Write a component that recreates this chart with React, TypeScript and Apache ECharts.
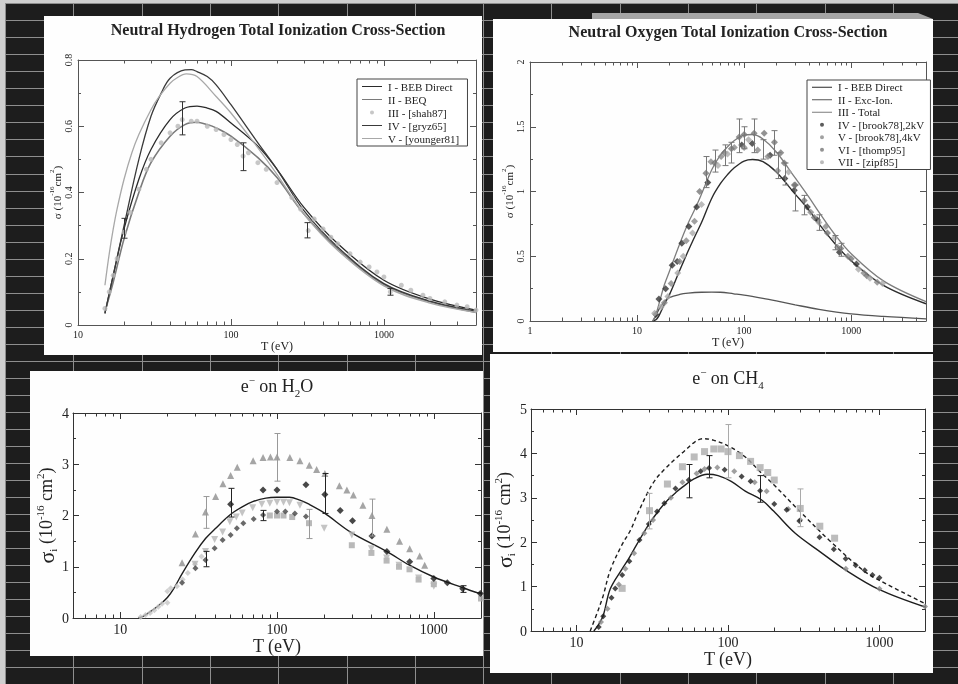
import React, { useEffect, useRef } from 'react';
import * as echarts from 'echarts';

const SERIF = '"Liberation Serif", "DejaVu Serif", serif';

// ---------------- Panel 1 : Neutral Hydrogen ----------------
const hTitle = 'Neutral Hydrogen Total Ionization Cross-Section';
const hNames = ['I - BEB Direct', 'II - BEQ', 'III - [shah87]', 'IV - [gryz65]', 'V - [younger81]'];
const hBebDirect = [[15, 0.035], [17, 0.15], [20, 0.29], [25, 0.44], [30, 0.53], [40, 0.62], [50, 0.655], [60, 0.661], [70, 0.655], [80, 0.645], [100, 0.61], [150, 0.54], [200, 0.47], [300, 0.355], [500, 0.245], [1000, 0.135], [2000, 0.078], [4000, 0.045]];
const hBeq = [[15, 0.04], [17, 0.13], [20, 0.26], [25, 0.4], [30, 0.49], [40, 0.57], [50, 0.605], [60, 0.612], [70, 0.605], [80, 0.595], [100, 0.57], [150, 0.505], [200, 0.445], [300, 0.335], [500, 0.23], [1000, 0.122], [2000, 0.07], [4000, 0.038]];
const hGryz = [[15, 0.035], [17, 0.15], [20, 0.3], [25, 0.5], [30, 0.63], [35, 0.7], [40, 0.745], [50, 0.77], [55, 0.771], [60, 0.765], [70, 0.75], [80, 0.725], [100, 0.665], [150, 0.55], [200, 0.47], [300, 0.345], [500, 0.235], [1000, 0.125], [2000, 0.072], [4000, 0.042]];
const hYounger = [[15, 0.12], [16, 0.215], [17, 0.29], [18, 0.35], [20, 0.44], [22.5, 0.52], [25, 0.575], [30, 0.65], [34, 0.69], [40, 0.73], [44, 0.745], [51, 0.758], [60, 0.75], [80, 0.69], [100, 0.64], [150, 0.535], [200, 0.455], [300, 0.335], [500, 0.225], [1000, 0.118], [2000, 0.066], [4000, 0.038]];
const hShah = [[15, 0.05], [16, 0.1], [17, 0.15], [18, 0.2], [20, 0.28], [22, 0.34], [25, 0.41], [28, 0.47], [30, 0.5], [35, 0.55], [40, 0.58], [45, 0.6], [48, 0.62], [55, 0.615], [60, 0.615], [70, 0.6], [80, 0.59], [90, 0.575], [100, 0.56], [110, 0.545], [120, 0.51], [130, 0.52], [150, 0.49], [170, 0.47], [200, 0.43], [250, 0.385], [285, 0.35], [320, 0.285], [350, 0.32], [400, 0.29], [450, 0.265], [500, 0.245], [600, 0.215], [700, 0.19], [800, 0.175], [900, 0.16], [1000, 0.145], [1100, 0.1], [1300, 0.12], [1500, 0.105], [1800, 0.09], [2000, 0.08], [2500, 0.07], [3000, 0.06], [3500, 0.055], [4000, 0.045]];
const hErr = [[20, 0.262, 0.322], [48, 0.574, 0.674], [120, 0.466, 0.55], [316, 0.263, 0.309], [1100, 0.09, 0.11]];

// ---------------- Panel 2 : Neutral Oxygen ----------------
const oTitle = 'Neutral Oxygen Total Ionization Cross-Section';
const oNames = ['I - BEB Direct ', 'II - Exc-Ion.', 'III - Total', 'IV - [brook78],2kV', 'V - [brook78],4kV', 'VI - [thomp95]', 'VII - [zipf85]'];
const oBebDirect = [[14, 0], [15, 0.01], [16, 0.04], [18, 0.13], [20, 0.2], [25, 0.39], [30, 0.54], [35, 0.66], [40, 0.76], [50, 0.95], [60, 1.06], [70, 1.13], [80, 1.18], [100, 1.235], [120, 1.247], [150, 1.23], [200, 1.15], [300, 0.98], [400, 0.86], [500, 0.75], [700, 0.6], [1000, 0.465], [2000, 0.275], [5000, 0.133]];
const oExcIon = [[14, 0], [15, 0.04], [16, 0.09], [18, 0.15], [20, 0.18], [25, 0.205], [30, 0.215], [40, 0.222], [50, 0.223], [60, 0.222], [80, 0.21], [100, 0.2], [150, 0.175], [200, 0.155], [300, 0.125], [500, 0.09], [1000, 0.055], [2000, 0.035], [5000, 0.017]];
const oTotal = [[14, 0], [15, 0.05], [16, 0.13], [18, 0.28], [20, 0.38], [25, 0.595], [30, 0.755], [35, 0.87], [40, 0.98], [50, 1.17], [60, 1.28], [70, 1.345], [80, 1.39], [100, 1.435], [120, 1.44], [150, 1.405], [200, 1.305], [300, 1.105], [400, 0.96], [500, 0.84], [700, 0.67], [1000, 0.52], [2000, 0.31], [5000, 0.15]];
const oBrook2 = [[15, 0.05], [16, 0.17], [18.5, 0.25], [21.3, 0.43], [23.7, 0.46], [26.2, 0.6], [30.5, 0.73], [36, 0.88], [45.8, 1.07], [95, 1.36], [119, 1.37], [175, 1.28], [240, 1.1], [294, 1.01], [390, 0.88], [484, 0.78], [777, 0.53], [1120, 0.44]];
const oBrook4 = [[18, 0.14], [20.8, 0.29], [25, 0.46], [28.8, 0.62], [34.4, 0.77], [49, 1.23], [61, 1.27], [81, 1.34], [100, 1.34], [134, 1.32], [167, 1.27], [206, 1.16], [294, 1.05], [419, 0.84], [580, 0.73], [744, 0.57], [930, 0.5], [1315, 0.37], [1750, 0.3]];
const oThomp = [[38.4, 1.0], [44, 1.14], [53, 1.22], [65.6, 1.3], [76, 1.33], [90, 1.42], [100, 1.44], [124, 1.45], [154, 1.45], [192, 1.38], [220, 1.3], [237, 1.22], [300, 1.05], [364, 0.93], [452, 0.8], [600, 0.68], [800, 0.56], [1000, 0.48], [1400, 0.35]];
const oZipf = [[14.6, 0.06], [16.8, 0.11], [19.4, 0.19], [24, 0.37], [27, 0.5], [33, 0.68], [40, 0.9], [57, 1.2], [70, 1.29], [110, 1.4], [260, 1.15], [500, 0.76], [700, 0.64], [1170, 0.4], [1500, 0.33], [1960, 0.29]];
const oErr = [[44, 1.03, 1.27], [53, 1.15, 1.32], [65.6, 1.2, 1.36], [75, 1.22, 1.38], [90, 1.3, 1.56], [100, 1.33, 1.5], [124, 1.3, 1.56], [150, 1.25, 1.4], [192, 1.28, 1.47], [206, 1.1, 1.3], [240, 1.05, 1.22], [300, 0.85, 1.05], [364, 0.82, 0.97], [500, 0.7, 0.82], [700, 0.55, 0.66], [800, 0.5, 0.6]];

// ---------------- Panel 3 : e- on H2O ----------------
const wCurve = [[13, 0], [14, 0.03], [16, 0.15], [18, 0.27], [20, 0.4], [22, 0.58], [25, 0.88], [30, 1.27], [35, 1.55], [40, 1.73], [50, 2.01], [60, 2.17], [70, 2.27], [85, 2.34], [100, 2.355], [120, 2.355], [140, 2.3], [160, 2.22], [200, 2.05], [300, 1.66], [500, 1.3], [700, 1.03], [1000, 0.8], [1500, 0.6], [2000, 0.47]];
const wTri = [[24.8, 1.08], [30.2, 1.64], [35, 2.07], [40.6, 2.37], [45.2, 2.62], [50.6, 2.78], [55.8, 2.94], [70.4, 3.07], [81.5, 3.13], [90.8, 3.14], [100, 3.14], [120.8, 3.13], [140, 3.07], [160.7, 2.98], [179, 2.9], [202, 2.82], [250, 2.58], [279, 2.5], [307, 2.4], [353, 2.2], [403, 2.0], [502, 1.73], [605, 1.5], [702, 1.35], [813, 1.21], [875, 1.03]];
const wDark = [[50.6, 2.22], [81.5, 2.5], [100, 2.5], [153, 2.6], [202, 2.41], [253, 2.1], [303, 1.9], [403, 1.6], [502, 1.3], [702, 1.1], [1000, 0.77], [1220, 0.69], [1530, 0.57], [1980, 0.48]];
const wMid = [[24.8, 0.69], [30.2, 0.97], [35, 1.13], [40, 1.36], [45, 1.52], [50.6, 1.62], [55.5, 1.75], [61, 1.85], [71, 1.93], [81.5, 2.01], [100, 2.08], [113, 2.08], [130, 2.04], [153, 1.98]];
const wTriDown = [[30, 1.05], [35, 1.3], [40, 1.53], [45, 1.68], [50, 1.88], [55, 1.97], [60, 2.05], [70, 2.15], [80, 2.22], [90, 2.24], [100, 2.26], [110, 2.26], [120, 2.25], [140, 2.2], [200, 1.75], [300, 1.62], [400, 1.35], [500, 1.17], [600, 1.03], [800, 0.78], [1000, 0.62]];
const wSquare = [[90, 2.0], [100, 2.0], [110, 2.0], [125, 1.97], [160, 1.85], [300, 1.42], [400, 1.27], [500, 1.12], [600, 1.0], [700, 0.95], [800, 0.75], [1000, 0.66], [2000, 0.38]];
const wLow = [[13.5, 0.02], [14.5, 0.06], [15.5, 0.1], [16.5, 0.15], [17.5, 0.22], [18.5, 0.28], [20, 0.3], [20, 0.52], [21, 0.58], [23, 0.62], [25, 0.75], [27, 0.88], [30, 1.05], [33, 1.2]];
const wErrDark = [[50.6, 1.97, 2.53], [202, 2.04, 2.82], [1530, 0.5, 0.63], [35, 1.0, 1.3], [81.5, 1.9, 2.1]];
const wErrLight = [[35, 1.75, 2.37], [100, 2.67, 3.6], [403, 1.6, 2.32], [160, 1.55, 2.12]];

// ---------------- Panel 4 : e- on CH4 ----------------
const mSolid = [[13, 0], [14, 0.15], [15, 0.35], [16.7, 0.95], [20, 1.4], [22, 1.62], [25, 1.95], [30, 2.4], [35, 2.72], [40, 2.95], [46, 3.14], [50, 3.24], [60, 3.43], [73, 3.53], [86, 3.5], [105, 3.37], [130, 3.15], [167, 2.95], [200, 2.7], [278, 2.2], [400, 1.8], [600, 1.37], [1000, 0.93], [2000, 0.54]];
const mDashed = [[12.3, 0], [14, 0.5], [15, 0.8], [16.7, 1.37], [20, 1.95], [22.7, 2.27], [25, 2.6], [29.3, 3.1], [33, 3.4], [37.8, 3.63], [45, 3.88], [51.4, 4.05], [60, 4.25], [68, 4.33], [80, 4.3], [100, 4.17], [129, 3.93], [167, 3.55], [200, 3.3], [278, 2.8], [464, 2.05], [778, 1.37], [1000, 1.14], [2000, 0.62]];
const mSquare = [[20, 0.96], [30.3, 2.71], [39.8, 3.31], [50, 3.7], [59.8, 3.92], [70, 4.04], [80.6, 4.1], [90, 4.1], [100, 4.04], [119, 3.95], [141, 3.82], [163, 3.68], [183, 3.57], [202, 3.4], [300, 2.76], [404, 2.36], [506, 2.09]];
const mDark = [[14, 0.09], [15, 0.33], [17, 0.75], [18, 0.96], [20, 1.26], [22.3, 1.57], [26, 2.05], [30, 2.41], [34, 2.69], [38, 2.88], [45, 3.21], [55, 3.4], [66, 3.6], [75, 3.67], [95, 3.63], [123, 3.48], [141, 3.37], [163, 3.16], [202, 2.86], [244, 2.73], [296, 2.48], [402, 2.11], [500, 1.84], [599, 1.63], [697, 1.48], [800, 1.37], [899, 1.26], [1000, 1.2]];
const mMid = [[14.5, 0.2], [16, 0.5], [19, 1.05], [21, 1.4], [24, 1.75], [28, 2.2], [32, 2.5], [42, 3.0], [50, 3.35], [62, 3.55], [70, 3.65], [85, 3.68], [110, 3.6], [150, 3.35], [180, 3.15], [250, 2.75], [300, 2.5], [600, 1.4], [1000, 0.95], [2000, 0.55]];
const mErrDark = [[55, 3.0, 3.75], [75, 3.45, 3.95], [163, 2.9, 3.5]];
const mErrLight = [[30.3, 2.3, 3.1], [100, 3.45, 4.65], [300, 2.35, 3.2]];

// axis ranges
const xRanges = [[10, 4000], [1, 5000], [5, 2000], [5, 2000]];
const yRanges = [[0, 0.8, 0.2], [0, 2, 0.5], [0, 4, 1], [0, 5, 1]];

const minorTicks = (min: number, max: number) => {
  const out: number[][] = [];
  for (let e = -1; e <= 4; e++) {
    for (let k = 2; k <= 9; k++) {
      const v = k * Math.pow(10, e);
      if (v > min * 1.0001 && v < max * 0.9999) out.push([v, 0]);
    }
  }
  return out;
};

const pow10Label = (v: number) => {
  const l = Math.log10(v);
  return Math.abs(l - Math.round(l)) < 1e-6 ? String(Math.round(Math.pow(10, Math.round(l)))) : '';
};

// legend icons (bounding box 22 x 5 so they are not rescaled)
const CORNERS = 'M0,0h0.01v0.01h-0.01Z M21.99,4.99h0.01v0.01h-0.01Z ';
const LINE_ICON = 'path://' + CORNERS + 'M1,1.9H21V3.1H1Z';
const DOT_ICON = 'path://' + CORNERS + 'M13,2.5A2,2 0 1 1 9,2.5A2,2 0 1 1 13,2.5Z';

export default function App() {
  const ref = useRef<HTMLDivElement>(null);
  useEffect(() => {
    if (!ref.current) return;
    const chart = echarts.init(ref.current, null, { renderer: 'svg' });

    const grids = [
      { left: 78, top: 60, width: 398, height: 265 },
      { left: 530, top: 62, width: 396, height: 259 },
      { left: 73, top: 413, width: 408, height: 205 },
      { left: 531, top: 409, width: 394, height: 222 },
    ];
    const axisColor = ['#555', '#555', '#333', '#333'];
    const labelSize = [10, 10, 14, 14];
    const nameSize = [12, 12, 18, 18];
    const xNameGap = [8, 12, 12, 12];

    const xAxis: any[] = [];
    const yAxis: any[] = [];
    for (let i = 0; i < 4; i++) {
      xAxis.push({
        type: 'log', logBase: 10, gridIndex: i, min: xRanges[i][0], max: xRanges[i][1], position: 'bottom',
        axisLine: { show: true, onZero: false, lineStyle: { color: axisColor[i], width: 1 } },
        axisTick: { show: true, inside: true, length: 6, lineStyle: { color: axisColor[i] } },
        splitLine: { show: false },
        axisLabel: { show: true, margin: 4, fontSize: labelSize[i], color: '#222', fontFamily: SERIF, formatter: pow10Label },
        name: 'T (eV)', nameLocation: 'middle', nameGap: xNameGap[i],
        nameTextStyle: { fontFamily: SERIF, fontSize: nameSize[i], color: '#222' },
      });
    }
    for (let i = 0; i < 4; i++) {
      xAxis.push({
        type: 'log', logBase: 10, gridIndex: i, min: xRanges[i][0], max: xRanges[i][1], position: 'top',
        axisLine: { show: true, onZero: false, lineStyle: { color: axisColor[i], width: 1 } },
        axisTick: { show: true, inside: true, length: 6, lineStyle: { color: axisColor[i] } },
        axisLabel: { show: false }, splitLine: { show: false },
      });
    }
    const yNames = [
      '{n|σ (10}{sup|-16}{n|cm}{sup|2}{n|)}',
      '{n|σ (10}{sup|-16}{n|cm}{sup|2}{n|)}',
      '{s|σ}{sub|i}{n| (10}{sup|-16}{n| cm}{sup|2}{n|)}',
      '{s|σ}{sub|i}{n| (10}{sup|-16}{n| cm}{sup|2}{n|)}',
    ];
    const yNameGap = [12, 12, 14, 14];
    for (let i = 0; i < 4; i++) {
      const small = i < 2;
      const fs = small ? 11 : 18;
      yAxis.push({
        type: 'value', gridIndex: i, min: yRanges[i][0], max: yRanges[i][1], interval: yRanges[i][2], position: 'left',
        axisLine: { show: true, onZero: false, lineStyle: { color: axisColor[i], width: 1 } },
        axisTick: { show: true, inside: true, length: 6, lineStyle: { color: axisColor[i] } },
        minorTick: { show: true, splitNumber: 2, length: 3, lineStyle: { color: axisColor[i] } },
        splitLine: { show: false }, minorSplitLine: { show: false },
        axisLabel: { show: true, rotate: small ? 90 : 0, margin: small ? 5 : 4, fontSize: labelSize[i], color: '#222', fontFamily: SERIF },
        name: yNames[i], nameLocation: 'middle', nameGap: yNameGap[i], nameRotate: 90,
        nameTextStyle: {
          fontFamily: SERIF, fontSize: fs, color: '#222',
          rich: {
            n: { fontFamily: SERIF, fontSize: fs, color: '#222', lineHeight: fs + 6 },
            s: { fontFamily: SERIF, fontSize: fs + 4, color: '#222', lineHeight: fs + 6 },
            sup: { fontFamily: SERIF, fontSize: Math.round(fs * 0.62), color: '#222', verticalAlign: 'top', lineHeight: Math.round(fs * 0.62) },
            sub: { fontFamily: SERIF, fontSize: Math.round(fs * 0.62), color: '#222', verticalAlign: 'bottom', lineHeight: Math.round(fs * 0.62) },
          },
        },
      });
    }
    for (let i = 0; i < 4; i++) {
      yAxis.push({
        type: 'value', gridIndex: i, min: yRanges[i][0], max: yRanges[i][1], interval: yRanges[i][2], position: 'right',
        axisLine: { show: true, onZero: false, lineStyle: { color: axisColor[i], width: 1 } },
        axisTick: { show: true, inside: true, length: 6, lineStyle: { color: axisColor[i] } },
        minorTick: { show: true, splitNumber: 2, length: 3, lineStyle: { color: axisColor[i] } },
        axisLabel: { show: false }, splitLine: { show: false }, minorSplitLine: { show: false },
      });
    }

    const line = (name: string, data: number[][], gi: number, color: string, width = 1.2, type: any = 'solid') => ({
      type: 'line', name, data, xAxisIndex: gi, yAxisIndex: gi, symbol: 'none', smooth: 0.35,
      lineStyle: { color, width, type }, itemStyle: { color }, z: 3, silent: true,
    });
    const scatter = (name: string, data: number[][], gi: number, color: string, symbol: string, size: number, rotate = 0) => ({
      type: 'scatter', name, data, xAxisIndex: gi, yAxisIndex: gi, symbol, symbolSize: size, symbolRotate: rotate,
      itemStyle: { color }, z: 4, silent: true,
    });
    const errBars = (name: string, data: number[][], gi: number, color: string) => ({
      type: 'custom', name, data, xAxisIndex: gi, yAxisIndex: gi, silent: true, z: 5,
      encode: { x: 0, y: [1, 2] },
      renderItem: (params: any, api: any) => {
        const lo = api.coord([api.value(0), api.value(1)]);
        const hi = api.coord([api.value(0), api.value(2)]);
        const x = Math.round(lo[0]) + 0.5;
        const st = { stroke: color, lineWidth: 1 };
        return {
          type: 'group', children: [
            { type: 'line', shape: { x1: x, y1: lo[1], x2: x, y2: hi[1] }, style: st },
            { type: 'line', shape: { x1: x - 3, y1: lo[1], x2: x + 3, y2: lo[1] }, style: st },
            { type: 'line', shape: { x1: x - 3, y1: hi[1], x2: x + 3, y2: hi[1] }, style: st },
          ],
        };
      },
    });
    const minorSeries = (gi: number) => ({
      type: 'custom', name: 'minor' + gi, data: minorTicks(xRanges[gi][0], xRanges[gi][1]), xAxisIndex: gi, yAxisIndex: gi,
      silent: true, z: 5, encode: { x: 0, y: 1 },
      renderItem: (params: any, api: any) => {
        const cs = params.coordSys;
        const x = Math.round(api.coord([api.value(0), 0])[0]) + 0.5;
        const st = { stroke: axisColor[gi], lineWidth: 1 };
        const len = 3.5;
        return {
          type: 'group', children: [
            { type: 'line', shape: { x1: x, y1: cs.y + cs.height, x2: x, y2: cs.y + cs.height - len }, style: st },
            { type: 'line', shape: { x1: x, y1: cs.y, x2: x, y2: cs.y + len }, style: st },
          ],
        };
      },
    });

    const series: any[] = [
      // panel 1
      line(hNames[0], hBebDirect, 0, '#2b2b2b', 1.3),
      line(hNames[1], hBeq, 0, '#7a7a7a', 1.6),
      scatter(hNames[2], hShah, 0, '#b9b9b9', 'circle', 5),
      line(hNames[3], hGryz, 0, '#3a3a3a', 1.3),
      line(hNames[4], hYounger, 0, '#a8a8a8', 1.3),
      errBars('hErr', hErr, 0, '#333'),
      minorSeries(0),
      // panel 2
      line(oNames[0], oBebDirect, 1, '#2b2b2b', 1.4),
      line(oNames[1], oExcIon, 1, '#555', 1.3),
      line(oNames[2], oTotal, 1, '#7d7d7d', 1.3),
      scatter(oNames[3], oBrook2, 1, '#333', 'diamond', 7),
      scatter(oNames[4], oBrook4, 1, '#8a8a8a', 'diamond', 7),
      scatter(oNames[5], oThomp, 1, '#777', 'diamond', 7),
      scatter(oNames[6], oZipf, 1, '#aaa', 'diamond', 7),
      errBars('oErr', oErr, 1, '#777'),
      minorSeries(1),
      // panel 3
      scatter('wLow', wLow, 2, '#c6c6c6', 'diamond', 6),
      scatter('wSquare', wSquare, 2, '#a8a8a8', 'rect', 6),
      scatter('wTriDown', wTriDown, 2, '#b5b5b5', 'triangle', 7, 180),
      scatter('wMid', wMid, 2, '#444', 'diamond', 6),
      scatter('wTri', wTri, 2, '#8e8e8e', 'triangle', 7),
      scatter('wDark', wDark, 2, '#1a1a1a', 'diamond', 7),
      errBars('wErrLight', wErrLight, 2, '#999'),
      errBars('wErrDark', wErrDark, 2, '#222'),
      line('wCurve', wCurve, 2, '#1e1e1e', 1.4),
      minorSeries(2),
      // panel 4
      scatter('mSquare', mSquare, 3, '#ababab', 'rect', 7),
      scatter('mMid', mMid, 3, '#888', 'diamond', 6),
      scatter('mDark', mDark, 3, '#1e1e1e', 'diamond', 6),
      errBars('mErrLight', mErrLight, 3, '#aaa'),
      errBars('mErrDark', mErrDark, 3, '#222'),
      line('mSolid', mSolid, 3, '#1e1e1e', 1.4),
      line('mDashed', mDashed, 3, '#1e1e1e', 1.4, [4, 3]),
      minorSeries(3),
    ];

    // ---- background decoration (spreadsheet-like grid behind the panels) ----
    const graphic: any[] = [];
    graphic.push({ type: 'rect', shape: { x: 0, y: 0, width: 958, height: 684 }, style: { fill: '#cfcfcf' }, z: -100 });
    graphic.push({ type: 'rect', shape: { x: 5, y: 3, width: 953, height: 681 }, style: { fill: '#1d1d1d' }, z: -99 });
    for (let k = 0; k < 14; k++) {
      const x = Math.round(5 + 68.3 * k) + 0.5;
      graphic.push({ type: 'line', shape: { x1: x, y1: 3, x2: x, y2: 684 }, style: { stroke: '#8e8e8e', lineWidth: 1 }, z: -98 });
    }
    for (let k = 0; k < 41; k++) {
      const y = Math.round(3.3 + 17.02 * k) + 0.5;
      graphic.push({ type: 'line', shape: { x1: 5, y1: y, x2: 958, y2: y }, style: { stroke: '#8e8e8e', lineWidth: 1 }, z: -98 });
    }
    const panels = [
      [44, 16, 438, 339],
      [493, 19, 440, 333],
      [30, 371, 453, 285],
      [490, 354, 443, 319],
    ];
    panels.forEach((p) => graphic.push({ type: 'rect', shape: { x: p[0], y: p[1], width: p[2], height: p[3] }, style: { fill: '#fefefe' }, z: -97 }));
    graphic.push({ type: 'polygon', shape: { points: [[592, 13], [918, 13], [933, 19], [592, 19]] }, style: { fill: '#a5a5a5' }, z: -97 });

    const titleStyle = (text: string, x: number, y: number) => ({
      type: 'text', x, y, z: 10,
      style: { text, fontFamily: SERIF, fontSize: 16, fontWeight: 'bold', fill: '#222', align: 'center', verticalAlign: 'middle' },
    });
    graphic.push(titleStyle(hTitle, 278, 29));
    graphic.push(titleStyle(oTitle, 728, 31));
    const chemTitle = (rich: string, x: number, y: number) => ({
      type: 'text', x, y, z: 10,
      style: {
        text: rich, align: 'center', verticalAlign: 'middle', fill: '#222',
        rich: {
          n: { fontFamily: SERIF, fontSize: 18, fill: '#222', lineHeight: 24 },
          sup: { fontFamily: SERIF, fontSize: 11, fill: '#222', verticalAlign: 'top', lineHeight: 11 },
          sub: { fontFamily: SERIF, fontSize: 11, fill: '#222', verticalAlign: 'bottom', lineHeight: 11 },
        },
      },
    });
    graphic.push(chemTitle('{n|e}{sup|−}{n| on H}{sub|2}{n|O}', 277, 386));
    graphic.push(chemTitle('{n|e}{sup|−}{n| on CH}{sub|4}', 728, 378));

    const legendCommon = {
      show: true, orient: 'vertical', itemGap: 0, itemWidth: 22, itemHeight: 5,
      borderColor: '#444', borderWidth: 1, backgroundColor: '#ffffff', selectedMode: false, symbolKeepAspect: false,
      textStyle: { fontFamily: SERIF, fontSize: 11, color: '#222' },
    };
    const hIcons = [LINE_ICON, LINE_ICON, DOT_ICON, LINE_ICON, LINE_ICON];
    const oIcons = [LINE_ICON, LINE_ICON, LINE_ICON, DOT_ICON, DOT_ICON, DOT_ICON, DOT_ICON];

    chart.setOption({
      animation: false,
      textStyle: { fontFamily: SERIF },
      grid: grids.map((g) => ({ ...g, containLabel: false })),
      xAxis, yAxis, series, graphic,
      legend: [
        {
          ...legendCommon, left: 357, top: 79, padding: [1, 8, 1, 4],
          textStyle: { ...legendCommon.textStyle, lineHeight: 13 },
          data: hNames.map((n, i) => ({ name: n, icon: hIcons[i] })),
        },
        {
          ...legendCommon, left: 807, top: 80, padding: [1, 6, 1, 4],
          textStyle: { ...legendCommon.textStyle, lineHeight: 12.5 },
          data: oNames.map((n, i) => ({ name: n, icon: oIcons[i] })),
        },
      ],
    });
    return () => chart.dispose();
  }, []);
  return <div ref={ref} style={{ position: 'fixed', left: 0, top: 0, width: 958, height: 684 }} />;
}
